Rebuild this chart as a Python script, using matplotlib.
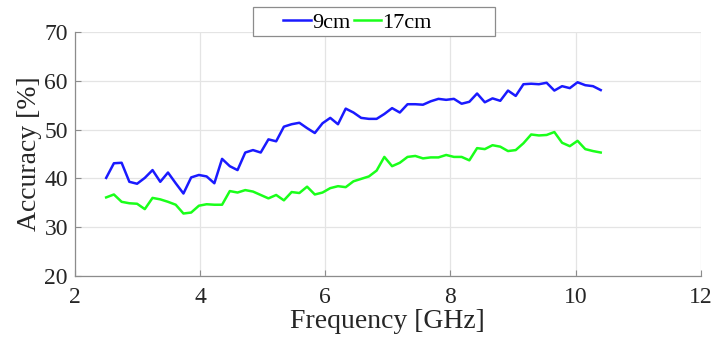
import numpy as np
import matplotlib.pyplot as plt
from matplotlib.patches import Rectangle

# frequency grid (GHz), 65 evenly spaced samples
freq = np.linspace(2.5, 10.4, 65)

acc_9cm = [40.1, 43.1, 43.2, 39.3, 38.9, 40.1, 41.7, 39.3, 41.2, 39.0,
           36.9, 40.2, 40.7, 40.4, 39.0, 44.0, 42.5, 41.7, 45.3, 45.8,
           45.3, 48.0, 47.6, 50.6, 51.1, 51.4, 50.3, 49.3, 51.3, 52.4,
           51.1, 54.3, 53.5, 52.4, 52.2, 52.2, 53.2, 54.4, 53.5, 55.2,
           55.2, 55.1, 55.8, 56.3, 56.1, 56.3, 55.3, 55.7, 57.4, 55.6,
           56.4, 55.9, 58.0, 56.9, 59.3, 59.4, 59.3, 59.6, 58.0, 58.9,
           58.5, 59.7, 59.1, 58.9, 58.1]

acc_17cm = [36.1, 36.7, 35.2, 34.9, 34.8, 33.7, 36.0, 35.7, 35.2, 34.6,
            32.8, 33.0, 34.4, 34.7, 34.6, 34.6, 37.4, 37.1, 37.6, 37.3,
            36.6, 35.9, 36.6, 35.5, 37.2, 37.0, 38.3, 36.7, 37.1, 38.0,
            38.4, 38.2, 39.4, 39.9, 40.4, 41.6, 44.4, 42.5, 43.2, 44.4,
            44.6, 44.1, 44.3, 44.3, 44.8, 44.4, 44.4, 43.7, 46.2, 46.0,
            46.8, 46.5, 45.6, 45.8, 47.2, 49.0, 48.8, 48.9, 49.5, 47.3,
            46.6, 47.7, 46.0, 45.6, 45.3]

labels = ['9cm', '17cm']
colors = ['#1a1aff', '#1aff1a']

x_ticks = [2, 4, 6, 8, 10, 12]
y_ticks = [20, 30, 40, 50, 60, 70]

plt.rcParams['font.family'] = ['Liberation Serif', 'DejaVu Serif']

fig = plt.figure(figsize=(7.13, 3.48), dpi=100)
ax = fig.add_axes([0.105, 0.207, 0.878, 0.701])

ax.plot(freq, acc_9cm, color=colors[0], lw=1.8, label=labels[0])
ax.plot(freq, acc_17cm, color=colors[1], lw=1.8, label=labels[1])

ax.set_xlim(2, 12)
ax.set_ylim(20, 70)
ax.set_xticks(x_ticks)
ax.set_yticks(y_ticks)
ax.grid(True, color='#e4e4e4', lw=0.9)
ax.set_axisbelow(True)

for side in ['top', 'right']:
    ax.spines[side].set_visible(False)
for side in ['left', 'bottom']:
    ax.spines[side].set_color('#8c8c8c')
    ax.spines[side].set_linewidth(0.9)
ax.tick_params(direction='in', length=4, color='#8c8c8c', labelsize=17,
               labelcolor='#262626')
ax.tick_params(axis='x', pad=8)
ax.tick_params(axis='y', pad=5)

ax.set_xlabel('Frequency [GHz]', fontsize=20, color='#262626', labelpad=1)
ax.set_ylabel('Accuracy [%]', fontsize=20, color='#262626', labelpad=2)

# legend box drawn separately so it can be wider than its entries
W, H = 713, 348
fig.patches.append(Rectangle((253 / W, 1 - 36 / H), 242 / W, 29 / H,
                             transform=fig.transFigure, fc='white',
                             ec='#8c8c8c', lw=0.9, zorder=5))
fig.legend(loc='center left', bbox_to_anchor=(272 / W, 1 - 23 / H),
           ncol=2, frameon=False, fontsize=16, handlelength=1.25,
           handletextpad=0.05, columnspacing=0.15, borderpad=0)

fig.savefig('out.png', dpi=100)
